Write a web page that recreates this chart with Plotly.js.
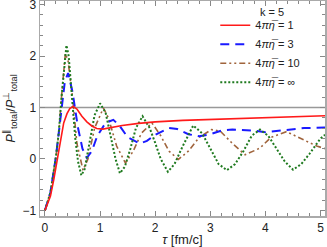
<!DOCTYPE html>
<html><head><meta charset="utf-8">
<script src="https://cdn.plot.ly/plotly-3.0.1.min.js"></script>
<style>html,body{margin:0;padding:0;background:#fff}#plot{width:327px;height:247px}</style>
</head><body><div id="plot"></div>
<script>
// tau values and ratio for each 4*pi*eta_bar (k = 5)
const redX = [0,0.1,0.16,0.22,0.28,0.34,0.4,0.45,0.51,0.58,0.67,0.76,0.85,0.94,1.05,1.2,1.4,1.7,2.0,2.5,3.0,3.5,4.0,4.5,5.08];
const redY = [-1,-0.72,-0.40,-0.01,0.37,0.70,0.88,0.98,1.02,0.97,0.83,0.72,0.64,0.59,0.58,0.61,0.65,0.69,0.72,0.75,0.77,0.79,0.81,0.83,0.84];

const blueX = [0,0.1,0.2,0.3,0.36,0.42,0.5,0.6,0.68,0.76,0.85,0.95,1.1,1.24,1.35,1.5,1.72,1.85,2.0,2.25,2.4,2.6,2.8,3.0,3.2,3.4,3.6,3.8,4.0,4.2,4.4,4.7,5.08];
const blueY = [-1,-0.65,0.05,1.0,1.5,1.67,1.3,0.6,0.2,0.02,0.15,0.45,0.7,0.76,0.65,0.42,0.3,0.35,0.47,0.6,0.58,0.48,0.44,0.48,0.55,0.57,0.56,0.55,0.52,0.54,0.57,0.6,0.61];

const brownX = [0,0.1,0.2,0.25,0.3,0.37,0.42,0.5,0.58,0.69,0.78,0.9,1.06,1.15,1.3,1.46,1.6,1.75,1.94,2.1,2.25,2.42,2.6,2.8,3.02,3.18,3.42,3.63,3.9,4.1,4.38,4.68,4.93,5.08];
const brownY = [-1,-0.65,0.05,0.5,1.2,2.05,1.9,1.2,0.3,-0.22,0.0,0.6,0.99,0.8,0.25,-0.08,0.15,0.5,0.7,0.45,0.15,-0.01,0.15,0.42,0.57,0.54,0.28,0.08,0.21,0.42,0.53,0.37,0.25,0.2];

const greenX = [0,0.1,0.2,0.25,0.3,0.35,0.39,0.43,0.5,0.55,0.6,0.66,0.72,0.8,0.9,1.0,1.1,1.2,1.28,1.36,1.45,1.55,1.65,1.77,1.9,2.0,2.1,2.23,2.35,2.5,2.69,2.85,3.0,3.15,3.3,3.45,3.6,3.75,3.9,4.05,4.2,4.35,4.5,4.65,4.8,5.0,5.08];
const greenY = [-1,-0.65,0.05,0.5,1.2,1.85,2.21,2.0,1.1,0.4,-0.05,-0.32,-0.2,0.3,0.85,1.08,0.9,0.4,0.0,-0.28,-0.15,0.2,0.6,0.83,0.6,0.31,0.0,-0.25,-0.1,0.25,0.65,0.5,0.2,-0.1,-0.22,-0.1,0.15,0.45,0.57,0.45,0.2,-0.05,-0.21,-0.1,0.1,0.4,0.47];

const refX = [-0.1,5.1];
const refY = [1,1];

const names = ['4<i>πη̅</i> = 1','4<i>πη̅</i> = 3','4<i>πη̅</i> = 10','4<i>πη̅</i> = ∞'];

const traces = [
  {x:refX,y:refY,mode:'lines',line:{color:'#999999',width:1.5},showlegend:false,hoverinfo:'skip'},
  {x:brownX,y:brownY,mode:'lines',name:names[2],line:{color:'#a0643c',width:1.6,dash:'6px,3px,2px,3px,2px,3px'},legendrank:3},
  {x:blueX,y:blueY,mode:'lines',name:names[1],line:{color:'#1a1aff',width:2,dash:'9px,6px'},legendrank:2},
  {x:greenX,y:greenY,mode:'lines',name:names[3],line:{color:'#1f7a1f',width:2,dash:'2px,2px'},legendrank:4},
  {x:redX,y:redY,mode:'lines',name:names[0],line:{color:'#ff1a1a',width:1.6},legendrank:1}
];

const axisCommon = {
  showgrid:false, zeroline:false, showline:true, linecolor:'#aaaaaa', linewidth:1.5,
  mirror:'ticks', ticks:'inside', ticklen:5, tickwidth:1, tickcolor:'#888888',
  ticklabeloverflow:'allow',
  tickfont:{family:'Liberation Sans, Arial, sans-serif', size:12, color:'#222'},
  minor:{ticks:'inside', ticklen:3, tickcolor:'#888888', dtick:0.2}
};

const layout = {
  width:327, height:247,
  margin:{l:40, r:1.5, t:1, b:31},
  paper_bgcolor:'#fff', plot_bgcolor:'#fff',
  font:{family:'Liberation Sans, Arial, sans-serif', size:11, color:'#222'},
  xaxis:Object.assign({}, axisCommon, {range:[-0.09,5.08], dtick:1, tick0:0,
    title:{text:'<i>τ</i> [fm/c]', font:{size:13}, standoff:2}}),
  yaxis:Object.assign({}, axisCommon, {range:[-1.11,3.07], dtick:1, tick0:0,
    title:{text:'<i>P</i><sup>∥</sup><sub>total</sub>/<i>P</i><sup>⊥</sup><sub>total</sub>', font:{size:13}, standoff:4}}),
  showlegend:true,
  legend:{x:0.615, y:0.955, xanchor:'left', yanchor:'top', bgcolor:'rgba(0,0,0,0)',
    font:{size:11}, traceorder:'normal', tracegroupgap:0},
  annotations:[{xref:'paper', yref:'paper', x:0.765, y:0.91, xanchor:'left', yanchor:'bottom',
    text:'k = 5', showarrow:false, font:{size:11}}]
};

Plotly.newPlot('plot', traces, layout, {staticPlot:true, displayModeBar:false});
</script></body></html>
